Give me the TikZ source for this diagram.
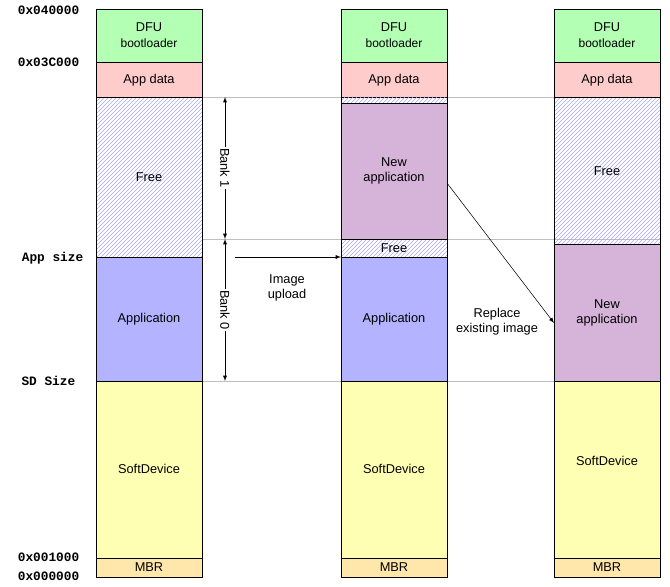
\documentclass[tikz,border=0pt]{standalone}
\usepackage{fontspec}
\setmainfont{Liberation Sans}
\setmonofont{Liberation Mono}
\usetikzlibrary{patterns}
\definecolor{dfugreen}{HTML}{B3FFB3}
\definecolor{datapink}{HTML}{FFCCCC}
\definecolor{appblue}{HTML}{B3B3FF}
\definecolor{newpurple}{HTML}{D6B3D9}
\definecolor{sdyellow}{HTML}{FFFFB3}
\definecolor{mbrorange}{HTML}{FFE6AA}
\definecolor{hatchblue}{HTML}{A8A8F0}

\tikzstyle{region} = [draw=black, line width=0.6pt, align=center]
\tikzstyle{free} = [region, pattern=north east lines, pattern color=hatchblue]
\tikzstyle{addr} = [anchor=east, font=\ttfamily\bfseries\fontsize{9.6}{10}\selectfont]
\tikzstyle{guide} = [draw=black!25, line width=0.5pt]
\tikzstyle{arrow} = [->,>=latex]
\tikzstyle{note} = [align=center, font=\fontsize{9.6}{11.5}\selectfont]

\begin{document}
\begin{tikzpicture}[x=0.75pt,y=-0.75pt]
\useasboundingbox (0,0) rectangle (670,586);

% guide lines
\draw[guide] (202,97) -- (660,97);
\draw[guide] (202,239) -- (660,239);
\draw[guide] (202,381) -- (660,381);

% left column
\path[region, fill=dfugreen] (96,9) rectangle (202,62);
\path[region, fill=datapink] (96,62) rectangle (202,97);
\path[free] (96,97) rectangle (202,257);
\path[region, fill=appblue] (96,257) rectangle (202,381);
\path[region, fill=sdyellow] (96,381) rectangle (202,558);
\path[region, fill=mbrorange] (96,558) rectangle (202,577);
\node (dfua) [note] at (149,35) {DFU\\\fontsize{9}{11}\selectfont bootloader};
\node (dataa) [note] at (149,80) {App data};
\node (freea) [note] at (149,177) {Free};
\node (appa) [note] at (149,319) {Application};
\node (sda) [note] at (149,469) {SoftDevice};
\node (mbra) [note] at (149,567) {MBR};

% middle column
\path[region, fill=dfugreen] (341,9) rectangle (447,62);
\path[region, fill=datapink] (341,62) rectangle (447,97);
\path[pattern=north east lines, pattern color=hatchblue] (341,97) rectangle (447,103);
\draw[line width=0.6pt] (341,97) -- (341,103) (447,97) -- (447,103);
\path[region, fill=newpurple] (341,103) rectangle (447,239);
\path[free] (341,239) rectangle (447,257);
\path[region, fill=appblue] (341,257) rectangle (447,381);
\path[region, fill=sdyellow] (341,381) rectangle (447,558);
\path[region, fill=mbrorange] (341,558) rectangle (447,577);
\node (dfub) [note] at (394,35) {DFU\\\fontsize{9}{11}\selectfont bootloader};
\node (datab) [note] at (394,80) {App data};
\node (newb) [note] at (394,171) {New\\application};
\node (freeb) [note] at (394,248) {Free};
\node (appb) [note] at (394,319) {Application};
\node (sdb) [note] at (394,469) {SoftDevice};
\node (mbrb) [note] at (394,567) {MBR};

% right column
\path[region, fill=dfugreen] (554,9) rectangle (660,62);
\path[region, fill=datapink] (554,62) rectangle (660,97);
\path[free] (554,97) rectangle (660,244);
\path[region, fill=newpurple] (554,244) rectangle (660,381);
\path[region, fill=sdyellow] (554,381) rectangle (660,558);
\path[region, fill=mbrorange] (554,558) rectangle (660,577);
\node (dfuc) [note] at (607,35) {DFU\\\fontsize{9}{11}\selectfont bootloader};
\node (datac) [note] at (607,80) {App data};
\node (freec) [note] at (607,171) {Free};
\node (newc) [note] at (607,313) {New\\application};
\node (sdc) [note] at (607,461) {SoftDevice};
\node (mbrc) [note] at (607,567) {MBR};

% addresses
\node (a40) [addr] at (84,10) {0x040000};
\node (a3c) [addr] at (84,62) {0x03C000};
\node (asz) [addr] at (88,258) {App size};
\node (ssz) [addr] at (80,381) {SD Size};
\node (a01) [addr] at (84,557) {0x001000};
\node (a00) [addr] at (84,576) {0x000000};

% banks
\coordinate (btop) at (225,97);
\coordinate (bmid) at (225,239);
\coordinate (bbot) at (225,381);
\draw[arrow, <->] (btop) -- (bmid) node[midway, fill=white, rotate=-90, inner sep=1pt, note]{Bank 1};
\draw[arrow, <->] (bmid) -- (bbot) node[midway, fill=white, rotate=-90, inner sep=1pt, note]{Bank 0};

% transfers
\coordinate (upl) at (235,257);
\coordinate (upr) at (341,257);
\draw[arrow] (upl) -- (upr);
\node (upload) [note] at (287,288) {Image\\upload};
\coordinate (repl) at (447,183);
\coordinate (repr) at (554,323);
\draw[arrow] (repl) -- (repr);
\node (replace) [note] at (497,322) {Replace\\existing image};
\end{tikzpicture}
\end{document}
